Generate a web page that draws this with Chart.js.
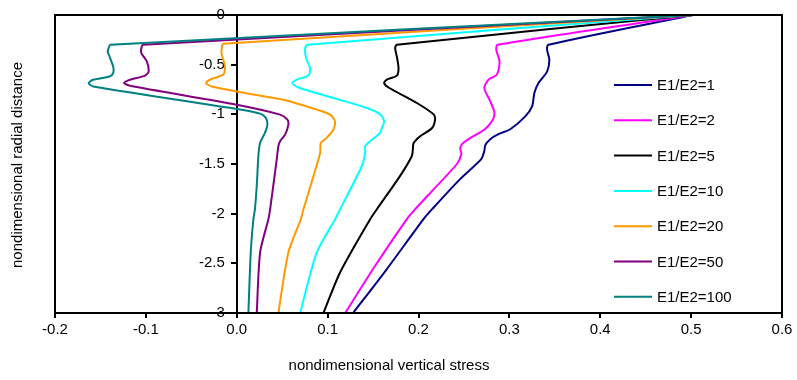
<!DOCTYPE html>
<html>
<head>
<meta charset="utf-8">
<script src="https://cdn.jsdelivr.net/npm/chart.js@4.4.1/dist/chart.umd.min.js"></script>
<style>
    body { margin: 0; background: #fff; }
    #wrap { width: 797px; height: 380px; }
</style>
</head>
<body>
<div id="wrap"><canvas id="stressChart" width="797" height="380"></canvas></div>
<script>
// E1/E2 ratios, one curve each
const ratios = [1, 2, 5, 10, 20, 50, 100];
const colors = ["#000080", "#ff00ff", "#000000", "#00ffff", "#ff9900", "#800080", "#008080"];

// axis ranges
const xRange = [-0.2, 0.6];
const yRange = [-3, 0];

// nondimensional radial distance (y) / vertical stress (x)
const depth1 = [0, -0.30, -0.35, -0.45, -0.57, -0.685, -0.785, -0.92, -1.02, -1.15, -1.2, -1.25, -1.31, -1.37, -1.45, -1.65, -1.955, -2.055, -2.56, -3.0];
const stress1 = [0.502, 0.343, 0.3415, 0.344, 0.3415, 0.332, 0.3275, 0.325, 0.3175, 0.301, 0.288, 0.279, 0.2735, 0.2724, 0.269, 0.246, 0.215, 0.2055, 0.165, 0.128];

const depth2 = [0, -0.30, -0.35, -0.47, -0.60, -0.65, -0.735, -0.87, -0.98, -1.06, -1.15, -1.25, -1.30, -1.34, -1.40, -1.50, -1.755, -1.955, -2.055, -2.525, -3.0];
const stress2 = [0.502, 0.287, 0.2856, 0.2892, 0.2863, 0.2771, 0.2724, 0.279, 0.2835, 0.2815, 0.273, 0.255, 0.248, 0.246, 0.2471, 0.2423, 0.2166, 0.1964, 0.1872, 0.1523, 0.1193];

const depth5 = [0, -0.30, -0.335, -0.42, -0.535, -0.61, -0.65, -0.685, -0.73, -0.886, -1.0, -1.05, -1.14, -1.22, -1.29, -1.35, -1.42, -1.62, -1.955, -2.055, -2.59, -3.0];
const stress5 = [0.502, 0.1762, 0.1743, 0.1762, 0.178, 0.1762, 0.1652, 0.1622, 0.167, 0.1982, 0.2165, 0.2183, 0.2147, 0.2018, 0.1945, 0.1938, 0.1927, 0.1798, 0.1542, 0.1468, 0.1138, 0.0954];

const depth10 = [0, -0.30, -0.335, -0.435, -0.535, -0.61, -0.65, -0.685, -0.73, -0.836, -0.936, -1.0, -1.07, -1.137, -1.187, -1.27, -1.32, -1.387, -1.52, -1.955, -2.055, -2.39, -3.0];
const stress10 = [0.502, 0.0778, 0.0752, 0.0763, 0.0807, 0.0789, 0.0661, 0.0612, 0.0678, 0.1064, 0.1432, 0.1578, 0.1622, 0.1597, 0.1578, 0.1468, 0.1413, 0.1413, 0.1377, 0.1138, 0.1083, 0.0881, 0.0697];

const depth20 = [0, -0.29, -0.335, -0.40, -0.52, -0.60, -0.65, -0.685, -0.72, -0.795, -0.853, -0.953, -1.003, -1.07, -1.153, -1.237, -1.287, -1.387, -1.622, -1.956, -2.056, -2.39, -3.0];
const stress20 = [0.502, -0.0148, -0.0165, -0.0165, -0.0129, -0.0148, -0.0294, -0.0338, -0.0275, 0.0147, 0.0514, 0.0881, 0.1028, 0.108, 0.1064, 0.099, 0.0925, 0.0918, 0.0844, 0.0734, 0.0705, 0.0568, 0.0458];

const depth50 = [0, -0.30, -0.334, -0.384, -0.468, -0.57, -0.61, -0.652, -0.685, -0.712, -0.903, -1.003, -1.053, -1.103, -1.204, -1.271, -1.321, -1.454, -1.956, -2.056, -2.39, -3.0];
const stress50 = [0.502, -0.103, -0.105, -0.105, -0.099, -0.097, -0.101, -0.1175, -0.124, -0.1175, 0.0, 0.0477, 0.0557, 0.0568, 0.0532, 0.0477, 0.0458, 0.044, 0.0367, 0.0348, 0.0257, 0.022];

const depth100 = [0, -0.30, -0.334, -0.368, -0.418, -0.519, -0.585, -0.619, -0.652, -0.685, -0.719, -0.946, -0.993, -1.036, -1.103, -1.187, -1.287, -1.421, -1.722, -1.956, -2.056, -2.39, -3.0];
const stress100 = [0.502, -0.139, -0.141, -0.142, -0.140, -0.136, -0.136, -0.140, -0.158, -0.163, -0.158, 0.0, 0.0258, 0.032, 0.0337, 0.031, 0.0257, 0.0238, 0.022, 0.020, 0.0183, 0.0154, 0.0128];

const depths = [depth1, depth2, depth5, depth10, depth20, depth50, depth100];
const stresses = [stress1, stress2, stress5, stress10, stress20, stress50, stress100];

const FONT = "'Liberation Sans', Arial, sans-serif";

// frame round the plot, legend inside it, axis titles
const framePlugin = {
    id: "frame",
    beforeDraw(chart) {
        // y axis sits on x = 0: push its labels left of the tick marks
        const labelX = chart.scales.x.getPixelForValue(0) - 12;
        chart.scales.y.getLabelItems(chart.chartArea).forEach(item => {
            item.options.translation[0] = labelX;
            item.options.textAlign = "right";
        });
    },
    afterDraw(chart) {
        const { ctx, chartArea: a } = chart;
        ctx.save();
        ctx.strokeStyle = "#000";
        ctx.lineWidth = 2;
        ctx.strokeRect(a.left, a.top, a.right - a.left, a.bottom - a.top);

        // Legend
        ctx.font = "15px " + FONT;
        ctx.textBaseline = "middle";
        ctx.fillStyle = "#000";
        chart.data.datasets.forEach((ds, i) => {
            const y = 85 + i * 35.3;
            ctx.strokeStyle = ds.borderColor;
            ctx.lineWidth = 2;
            ctx.beginPath();
            ctx.moveTo(614, y);
            ctx.lineTo(652, y);
            ctx.stroke();
            ctx.fillText(ds.label, 657, y + 1);
        });

        // Axis titles
        ctx.textAlign = "center";
        ctx.fillText("nondimensional vertical stress", 389, 366);

        ctx.save();
        ctx.translate(18, 165);
        ctx.rotate(-Math.PI / 2);
        ctx.fillText("nondimensional radial distance", 0, 0);
        ctx.restore();

        ctx.restore();
    }
};

document.addEventListener("DOMContentLoaded", () => {
    const ctx = document.getElementById("stressChart");

    const datasets = ratios.map((r, i) => ({
        label: "E1/E2=" + r,
        data: depths[i].map((d, j) => ({ x: stresses[i][j], y: d })),
        borderColor: colors[i],
        backgroundColor: colors[i],
        borderWidth: 2,
        pointRadius: 0,
        showLine: true,
        tension: 0.25,
        fill: false,
        order: ratios.length - i
    }));

    new Chart(ctx, {
        type: "scatter",
        data: { datasets },
        options: {
            responsive: false,
            animation: false,
            events: [],
            layout: {
                padding: { left: 55, right: 15, top: 15, bottom: 38 }
            },
            plugins: {
                legend: { display: false },
                tooltip: { enabled: false }
            },
            scales: {
                x: {
                    type: "linear",
                    position: "bottom",
                    min: xRange[0],
                    max: xRange[1],
                    ticks: {
                        stepSize: 0.1,
                        padding: 3,
                        color: "#000",
                        font: { family: FONT, size: 15 },
                        maxRotation: 0,
                        callback: value => value.toFixed(1)
                    },
                    grid: {
                        display: true,
                        drawOnChartArea: false,
                        drawTicks: true,
                        tickLength: 5,
                        color: "#000",
                        lineWidth: 2
                    },
                    border: { display: true, color: "#000", width: 2 }
                },
                y: {
                    type: "linear",
                    axis: "y",
                    position: { x: 0 },
                    min: yRange[0],
                    max: yRange[1],
                    ticks: {
                        stepSize: 0.5,
                        color: "#000",
                        font: { family: FONT, size: 15 },
                        callback: value => String(Math.round(value * 10) / 10)
                    },
                    grid: {
                        display: true,
                        drawOnChartArea: false,
                        drawTicks: true,
                        tickLength: 5,
                        color: "#000",
                        lineWidth: 2
                    },
                    border: { display: true, color: "#000", width: 2 }
                }
            }
        },
        plugins: [framePlugin]
    });
});
</script>
</body>
</html>
